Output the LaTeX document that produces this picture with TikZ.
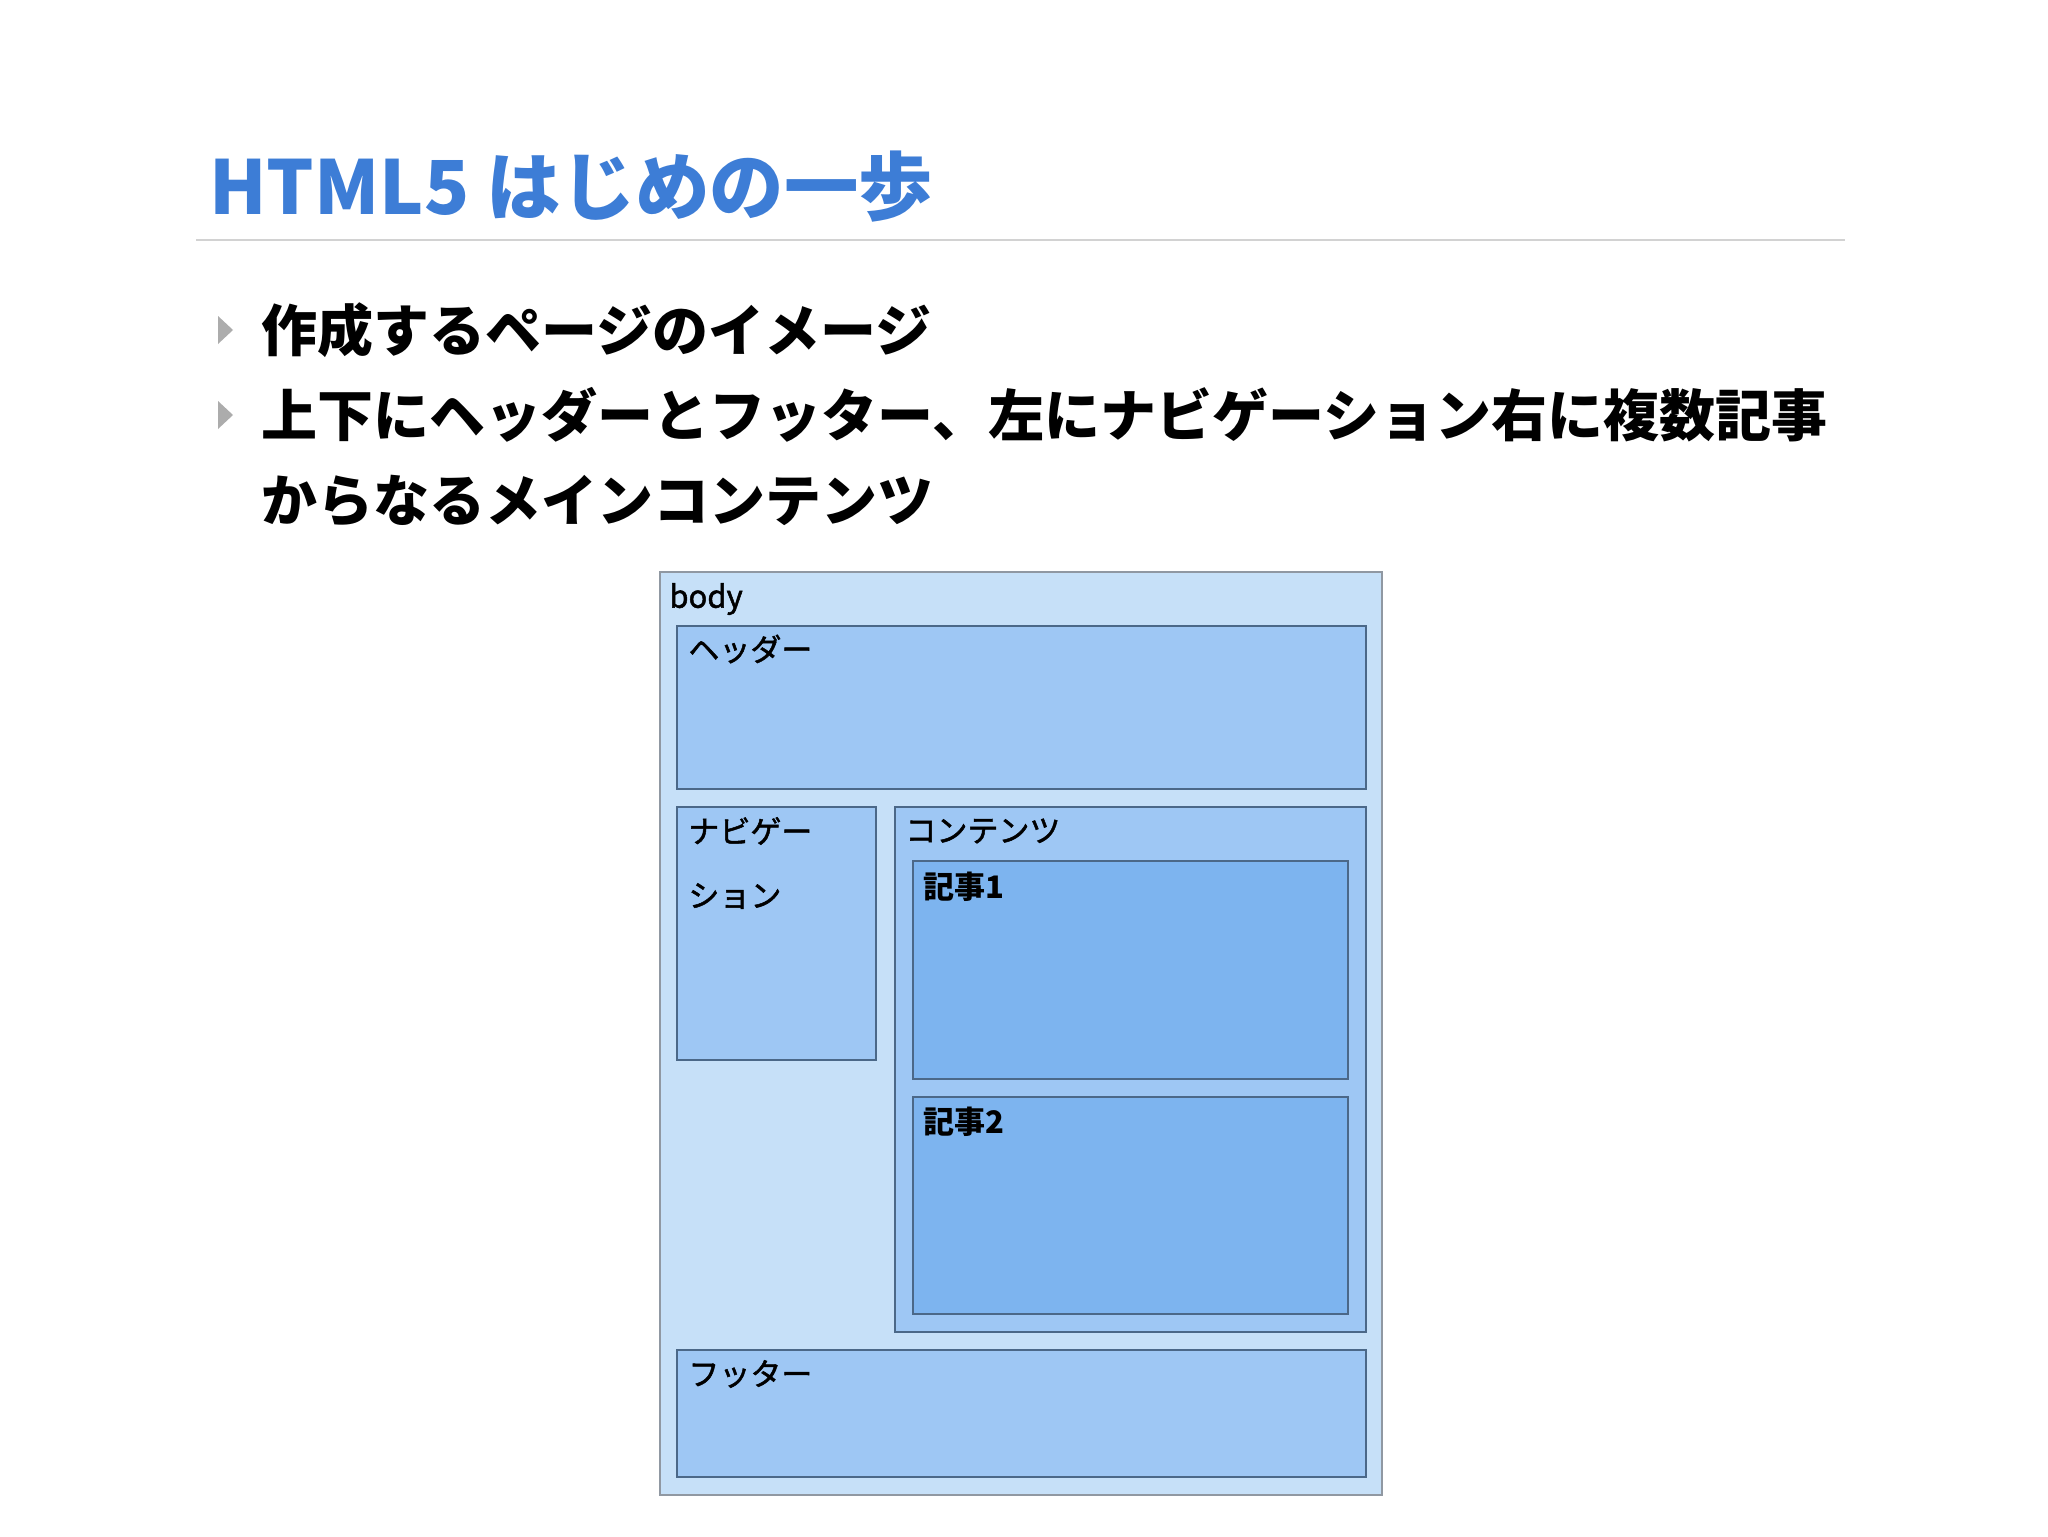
\documentclass[tikz,border=0pt]{standalone}
\usepackage{fontspec}
\setmainfont{Noto Sans CJK JP}
\newfontface\labelface{Noto Sans CJK JP}[RawFeature={embolden=1.6}]
\usepackage{xcolor}
\usepackage{tikz}
\usetikzlibrary{positioning}
\definecolor{titleblue}{HTML}{3D7DD6}
\definecolor{bodyfill}{HTML}{C6E0F8}
\definecolor{partfill}{HTML}{9EC7F4}
\definecolor{artfill}{HTML}{7DB4EF}
\definecolor{partline}{HTML}{4B6888}
\definecolor{bodyline}{HTML}{9098A2}

\begin{document}
\begin{tikzpicture}[
			x = 0.5pt, y = -0.5pt,
			every node/.style = {inner sep = 0pt, anchor = west},
			part/.style = {draw = partline, line width = 0.8pt, fill = partfill},
			article/.style = {part, fill = artfill},
			lbl/.style = {font = \fontsize{15.5}{18}\selectfont\labelface},
			artlbl/.style = {font = \fontsize{15.5}{18}\selectfont\bfseries},
			bullettext/.style = {font = \fontsize{28}{42.5}\selectfont\bfseries, align = left}]

			\fill[white] (0,0) rectangle (2048,1536);
			\useasboundingbox (0,0) rectangle (2048,1536);

			% heading
			\node[font = \fontsize{37.2}{44}\selectfont\bfseries, text = titleblue] (title) at (209,187) {HTML5 はじめの一歩};
			\draw[gray!35, line width = 1pt] (196,240) -- (1845,240);

			% bullets
			\foreach \y in {330,415}
				\fill[gray!65] (218,\y-14) -- (233,\y) -- (218,\y+14) -- cycle;
			\node[bullettext] (itema) at (261,330) {作成するページのイメージ};
			\node[bullettext] (itemb) at (261,457.5) {上下にヘッダーとフッター、左にナビゲーション右に複数記事\\からなるメインコンテンツ};

			% page layout
			\draw[bodyline, line width = 1pt, fill = bodyfill] (660,572) rectangle (1382,1495);
			\node[lbl] (bodylbl) at (669,599) {body};

			\draw[part] (677,626) rectangle (1366,789);
			\node[lbl] (headerlbl) at (688,649) {ヘッダー};

			\draw[part] (677,807) rectangle (876,1060);
			\node[lbl] (navlbla) at (688,831) {ナビゲー};
			\node[lbl] (navlblb) at (688,896) {ション};

			\draw[part] (895,807) rectangle (1366,1332);
			\node[lbl] (contentlbl) at (905,831) {コンテンツ};

			\draw[article] (913,861) rectangle (1348,1079);
			\node[artlbl] (artlbla) at (923,887) {記事1};
			\draw[article] (913,1097) rectangle (1348,1314);
			\node[artlbl] (artlblb) at (923,1122) {記事2};

			\draw[part] (677,1350) rectangle (1366,1477);
			\node[lbl] (footerlbl) at (688,1374) {フッター};

		\end{tikzpicture}
\end{document}
